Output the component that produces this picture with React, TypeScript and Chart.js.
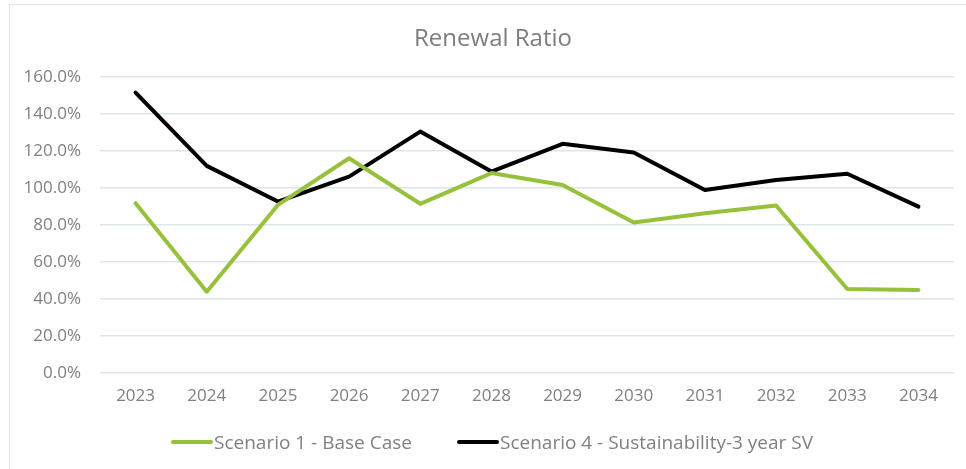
import React, { useEffect, useRef } from "react";
import { Chart, registerables } from "chart.js";

Chart.register(...registerables);

const years = ["2023", "2024", "2025", "2026", "2027", "2028", "2029", "2030", "2031", "2032", "2033", "2034"];
const scenario1 = [91.7, 43.9, 90.8, 116.0, 91.4, 108.0, 101.6, 81.3, 86.3, 90.5, 45.4, 44.9];
const scenario4 = [151.5, 111.9, 92.6, 106.1, 130.4, 108.8, 123.8, 119.1, 98.9, 104.3, 107.6, 89.9];
const seriesNames = ["Scenario 1 - Base Case", "Scenario 4 - Sustainability-3 year SV"];
const seriesColors = ["#97c13c", "#000000"];
const title = "Renewal Ratio";

const FONT = "'Open Sans', 'DejaVu Sans', sans-serif";
const TEXT = "#808080";

const titleShift = {
  id: "titleShift",
  afterLayout(chart: any) {
    if (chart.titleBlock) {
      chart.titleBlock.left += 32;
    }
  },
};

export default function App() {
  const ref = useRef<HTMLCanvasElement | null>(null);

  useEffect(() => {
    if (!ref.current) return;
    const chart = new Chart(ref.current, {
      type: "line",
      data: {
        labels: years,
        datasets: [
          {
            label: seriesNames[0],
            data: scenario1,
            borderColor: seriesColors[0],
            backgroundColor: seriesColors[0],
            borderWidth: 4,
            pointRadius: 0,
            tension: 0,
            borderCapStyle: "round",
            borderJoinStyle: "round",
          },
          {
            label: seriesNames[1],
            data: scenario4,
            borderColor: seriesColors[1],
            backgroundColor: seriesColors[1],
            borderWidth: 4,
            pointRadius: 0,
            tension: 0,
            borderCapStyle: "round",
            borderJoinStyle: "round",
          },
        ],
      },
      options: {
        responsive: false,
        animation: false,
        devicePixelRatio: 1,
        layout: { padding: { left: 0, right: 12, top: 0, bottom: 56 } },
        plugins: {
          legend: { display: false },
          tooltip: { enabled: false },
          title: {
            display: true,
            text: title,
            color: "#7d7d7d",
            font: { family: FONT, size: 24, weight: "normal" },
            padding: { top: 25, bottom: 23 },
          },
        },
        scales: {
          x: {
            offset: true,
            grid: { display: false, drawTicks: false },
            border: { display: false },
            ticks: {
              color: TEXT,
              font: { family: FONT, size: 17 },
              padding: 13,
              maxRotation: 0,
            },
            afterFit: (s: any) => {
              s.height = 40;
            },
          },
          y: {
            min: 0,
            max: 160,
            grid: { color: "#dfe6e9", lineWidth: 1.5, drawTicks: false },
            border: { display: false },
            ticks: {
              stepSize: 20,
              color: TEXT,
              font: { family: FONT, size: 17 },
              padding: 19,
              callback: (v: any) => Number(v).toFixed(1) + "%",
            },
            afterFit: (s: any) => {
              s.width = 100;
            },
          },
        },
      },
      plugins: [titleShift],
    });
    return () => chart.destroy();
  }, []);

  const legendText: React.CSSProperties = {
    fontFamily: FONT,
    fontSize: 19,
    color: TEXT,
    marginLeft: 1,
    whiteSpace: "nowrap",
  };
  const item = (left: number): React.CSSProperties => ({
    position: "absolute",
    left,
    top: 428,
    height: 28,
    display: "flex",
    alignItems: "center",
  });

  return (
    <div style={{ position: "absolute", left: 0, top: 0, width: 966, height: 469, background: "#fff", overflow: "hidden" }}>
      <canvas ref={ref} width={966} height={469} style={{ position: "absolute", left: 0, top: 0, width: 966, height: 469 }} />
      <div
        style={{
          position: "absolute",
          left: 9,
          top: 4,
          right: -2,
          bottom: -2,
          borderLeft: "1.5px solid #dfe7e9",
          borderTop: "1.5px solid #dfe7e9",
          pointerEvents: "none",
        }}
      />
      <div style={item(171)}>
        <div style={{ width: 42, height: 4, background: seriesColors[0], borderRadius: 2 }} />
        <span style={legendText}>{seriesNames[0]}</span>
      </div>
      <div style={item(457)}>
        <div style={{ width: 42, height: 4, background: seriesColors[1], borderRadius: 2 }} />
        <span style={legendText}>{seriesNames[1]}</span>
      </div>
    </div>
  );
}
